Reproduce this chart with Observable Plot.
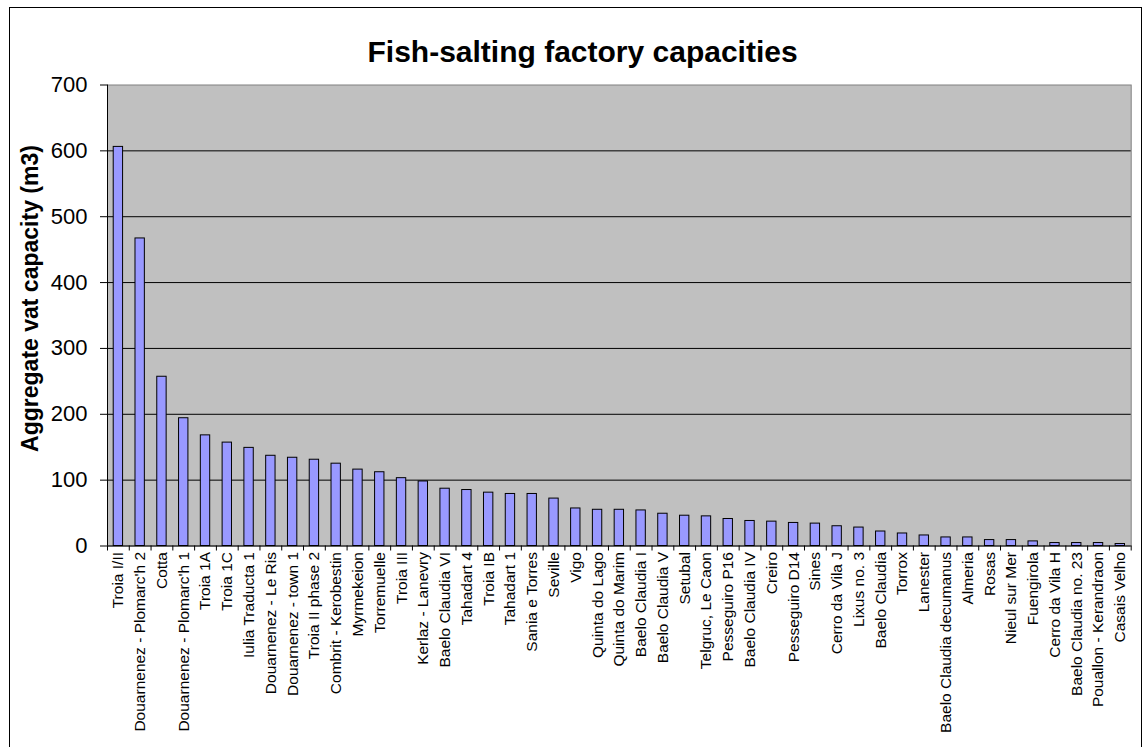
<!DOCTYPE html>
<html>
<head>
<meta charset="utf-8">
<script src="https://cdn.jsdelivr.net/npm/d3@7"></script>
<script src="https://cdn.jsdelivr.net/npm/@observablehq/plot@0.6"></script>
<style>
  html, body { margin: 0; padding: 0; background: #fff; }
  #wrap { position: relative; width: 1145px; height: 747px; overflow: hidden; }
  #border { position: absolute; left: 9px; top: 7px; width: 1133px; height: 745px; border: 1px solid #000; box-sizing: border-box; pointer-events: none; }
</style>
</head>
<body>
<div id="wrap"><div id="chart"></div><div id="border"></div></div>
<script>
const titleText = "Fish-salting factory capacities";
const yTitle = "Aggregate vat capacity (m3)";

const categories = [
  "Troia I/II", "Douarnenez - Plomarc'h 2", "Cotta", "Douarnenez - Plomarc'h 1",
  "Troia 1A", "Troia 1C", "Iulia Traducta 1", "Douarnenez - Le Ris",
  "Douarnenez - town 1", "Troia II phase 2", "Combrit - Kerobestin", "Myrmekeion",
  "Torremuelle", "Troia III", "Kerlaz - Lanevry", "Baelo Claudia VI",
  "Tahadart 4", "Troia IB", "Tahadart 1", "Sania e Torres", "Seville", "Vigo",
  "Quinta do Lago", "Quinta do Marim", "Baelo Claudia I", "Baelo Claudia V",
  "Setubal", "Telgruc, Le Caon", "Pesseguiro P16", "Baelo Claudia IV", "Creiro",
  "Pesseguiro D14", "Sines", "Cerro da Vila J", "Lixus no. 3", "Baelo Claudia",
  "Torrox", "Lanester", "Baelo Claudia decumanus", "Almeria", "Rosas",
  "Nieul sur Mer", "Fuengirola", "Cerro da Vila H", "Baelo Claudia no. 23",
  "Pouallon - Kerandraon", "Casais Velho"
];

const values = [
  606, 467, 257, 194,
  168, 157, 149, 137,
  134, 131, 125, 116,
  112, 103, 98, 87,
  85, 81, 79, 79, 72, 57,
  55, 55, 54, 49,
  46, 45, 41, 38, 37,
  35, 34, 30, 28, 22,
  19, 16, 13, 13, 9,
  9, 7, 4.5, 4.5,
  4.5, 3
];

const yTicks = [0, 100, 200, 300, 400, 500, 600, 700];

const data = categories.map((c, i) => ({site: c, value: values[i]}));

const W = 1145, H = 747;
const mL = 107, mR = 14.3, mT = 84.5, mB = 201.5;
const step = (W - mL - mR) / categories.length;
const font = "'Liberation Sans', Arial, Helvetica, sans-serif";

const chart = Plot.plot({
  width: W,
  height: H,
  marginLeft: mL,
  marginRight: mR,
  marginTop: mT,
  marginBottom: mB,
  style: {fontFamily: font, background: "transparent", color: "#000", overflow: "visible"},
  x: {domain: categories, paddingInner: 0.57, paddingOuter: 0.285, label: null, axis: null},
  y: {domain: [0, 700], label: null, axis: null},
  marks: [
    Plot.frame({fill: "#C0C0C0", stroke: "#808080"}),
    Plot.ruleY(yTicks.filter(d => d > 0 && d < 700), {stroke: "#000", strokeWidth: 1}),
    Plot.barY(data, {x: "site", y: "value", fill: "#9999FF", stroke: "#000", strokeWidth: 1}),
    Plot.ruleY([0], {stroke: "#000", strokeWidth: 1}),
    Plot.ruleX([categories[0]], {dx: -step / 2, stroke: "#000", strokeWidth: 1}),
    Plot.axisY({ticks: yTicks, tickSize: 7, tickPadding: 13, fontSize: 22, stroke: "#000", label: null}),
    Plot.axisX({ticks: categories, tickSize: 5, tickFormat: () => "", dx: -step / 2, stroke: "#000", label: null}),
    Plot.axisX({ticks: [categories[categories.length - 1]], tickSize: 5, tickFormat: () => "", dx: step / 2, stroke: "#000", label: null}),
    Plot.axisX({ticks: categories, tickSize: 0, tickPadding: 6, tickRotate: -90, fontSize: 15.5, label: null}),
    Plot.text([titleText], {frameAnchor: "top-left", dx: 260, dy: -22.8, textAnchor: "start", lineAnchor: "bottom", fontSize: 30, fontWeight: "bold", fill: "#000"}),
    Plot.text([yTitle], {frameAnchor: "left", dx: -70, dy: -17, rotate: -90, textAnchor: "middle", lineAnchor: "bottom", fontSize: 23, fontWeight: "bold", fill: "#000"})
  ]
});
document.getElementById("chart").appendChild(chart);
</script>
</body>
</html>
